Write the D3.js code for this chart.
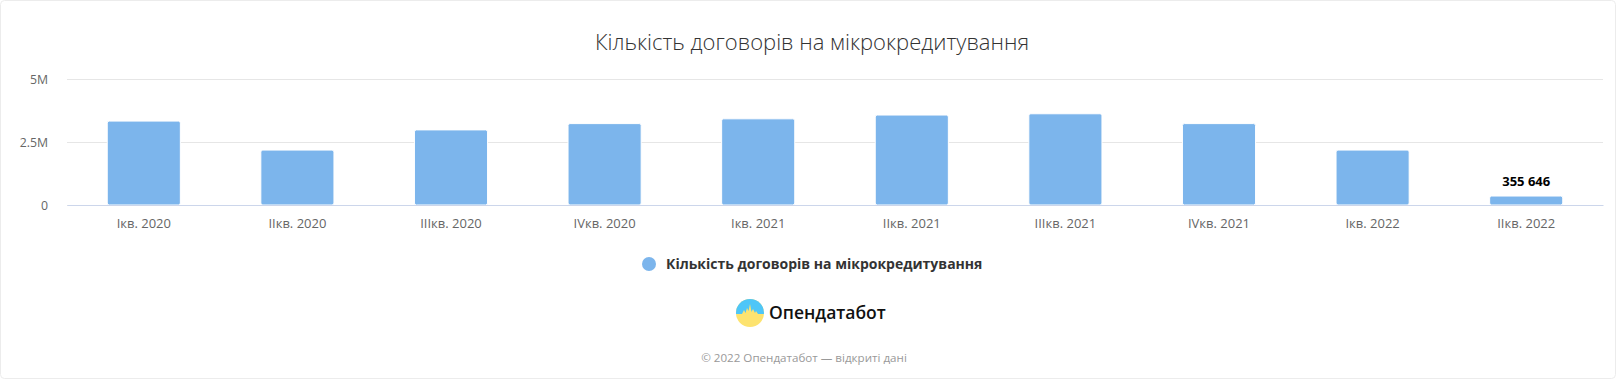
<!DOCTYPE html>
<html>
<head>
<meta charset="utf-8">
<script src="https://cdn.jsdelivr.net/npm/d3@7"></script>
<style>
  body { margin: 0; background: #fff; }
  svg { display: block; font-family: "Open Sans", "Noto Sans", sans-serif; }
</style>
</head>
<body>
<svg class="chart" width="1616" height="379"></svg>
<script>
/**********************
 Data
**********************/
var quarters = ['Ікв. 2020', 'IIкв. 2020', 'IIIкв. 2020', 'IVкв. 2020', 'Ікв. 2021',
                'IIкв. 2021', 'IIIкв. 2021', 'IVкв. 2021', 'Ікв. 2022', 'IIкв. 2022'];
var contracts = [3330000, 2180000, 2980000, 3230000, 3420000,
                 3570000, 3620000, 3230000, 2180000, 355646];
var yTicks = [0, 2500000, 5000000];
var yTickLabels = ['0', '2.5M', '5M'];
var titleText = 'Кількість договорів на мікрокредитування';
var seriesName = 'Кількість договорів на мікрокредитування';

/**********************
 Layout
**********************/
var svg = d3.select('svg.chart');
var svgWidth = +svg.attr('width');
var svgHeight = +svg.attr('height');
var padding = {t: 79, r: 13, b: 174, l: 67};
var chartWidth = svgWidth - padding.l - padding.r;
var chartHeight = svgHeight - padding.t - padding.b;

// card border
svg.append('rect')
    .attr('x', 0.5).attr('y', 0.5)
    .attr('width', svgWidth - 1).attr('height', svgHeight - 1)
    .attr('rx', 4)
    .attr('fill', '#fff')
    .attr('stroke', '#ececec');

var xScale = d3.scaleBand().domain(quarters).range([0, chartWidth]).paddingInner(0).paddingOuter(0);
var yScale = d3.scaleLinear().domain([0, 5000000]).range([chartHeight, 0]);

var chartG = svg.append('g')
    .attr('transform', 'translate(' + [padding.l, padding.t] + ')');

// title
svg.append('text')
    .attr('x', 812).attr('y', 50)
    .attr('text-anchor', 'middle')
    .style('font-size', '22px')
    .style('font-weight', 300)
    .style('fill', '#333')
    .text(titleText);

// grid + y labels
var yAxisG = chartG.append('g').attr('class', 'y axis')
    .call(d3.axisLeft(yScale).tickValues(yTicks)
        .tickSize(-chartWidth)
        .tickFormat(function(d, i) { return yTickLabels[i]; }));
yAxisG.select('.domain').remove();
yAxisG.selectAll('.tick line').attr('stroke', '#e6e6e6');
yAxisG.selectAll('.tick text')
    .attr('x', -19).attr('dy', '0.36em')
    .style('font-family', '"Open Sans", sans-serif')
    .style('font-size', '12.3px')
    .style('fill', '#666');

// bars
chartG.selectAll('.bar')
    .data(contracts)
    .enter().append('rect')
    .attr('class', 'bar')
    .attr('x', function(d, i) { return xScale(quarters[i]) + xScale.bandwidth() * 0.262; })
    .attr('width', xScale.bandwidth() * 0.476)
    .attr('y', function(d) { return yScale(d); })
    .attr('height', function(d) { return chartHeight - yScale(d); })
    .attr('rx', 2)
    .attr('fill', '#7cb5ec')
    .attr('stroke', '#fff')
    .attr('stroke-width', 1);

// x axis
var xAxisG = chartG.append('g').attr('class', 'x axis')
    .attr('transform', 'translate(' + [0, chartHeight] + ')')
    .call(d3.axisBottom(xScale).tickSize(0));
xAxisG.select('.domain').attr('stroke', '#ccd6eb');
xAxisG.selectAll('.tick text')
    .attr('y', 14).attr('dy', '0.71em')
    .style('font-family', '"Open Sans", sans-serif')
    .style('font-size', '13px')
    .style('fill', '#666');

// data label on the last bar
var lastIdx = contracts.length - 1;
chartG.append('text')
    .attr('x', xScale(quarters[lastIdx]) + xScale.bandwidth() / 2)
    .attr('y', yScale(contracts[lastIdx]) - 10)
    .attr('text-anchor', 'middle')
    .style('font-size', '13px')
    .style('font-weight', 'bold')
    .style('fill', '#000')
    .text(d3.format(',')(contracts[lastIdx]).replace(/,/g, ' '));

// legend
var legendG = svg.append('g').attr('transform', 'translate(649,264)');
legendG.append('circle').attr('r', 7).attr('fill', '#7cb5ec');
legendG.append('text')
    .attr('x', 17).attr('y', 5)
    .style('font-size', '14px')
    .style('font-weight', 'bold')
    .style('fill', '#333')
    .text(seriesName);

// logo
var logoG = svg.append('g').attr('transform', 'translate(750,313)');
var defs = svg.append('defs');
defs.append('clipPath').attr('id', 'logoClip')
    .append('circle').attr('r', 14);
var lg = logoG.append('g').attr('clip-path', 'url(#logoClip)');
lg.append('rect').attr('x', -14).attr('y', -14).attr('width', 28).attr('height', 28).attr('fill', '#fde36f');
lg.append('path')
    .attr('d', 'M-14,-14 H14 V1 H8 L6,-2 L5,0 L3,-4 L1.5,-1 L0,-9 L-1.5,-2 L-3,-5 L-4.5,0 L-6,-3 L-8,1 H-14 Z')
    .attr('fill', '#4ec6f8');
logoG.append('text')
    .attr('x', 19).attr('y', 6)
    .style('font-size', '17.5px')
    .style('font-weight', 600)
    .style('fill', '#111')
    .text('Опендатабот');

// footer
svg.append('text')
    .attr('x', 804).attr('y', 362)
    .attr('text-anchor', 'middle')
    .style('font-size', '11.6px')
    .style('fill', '#999')
    .text('© 2022 Опендатабот — відкриті дані');
</script>
</body>
</html>
